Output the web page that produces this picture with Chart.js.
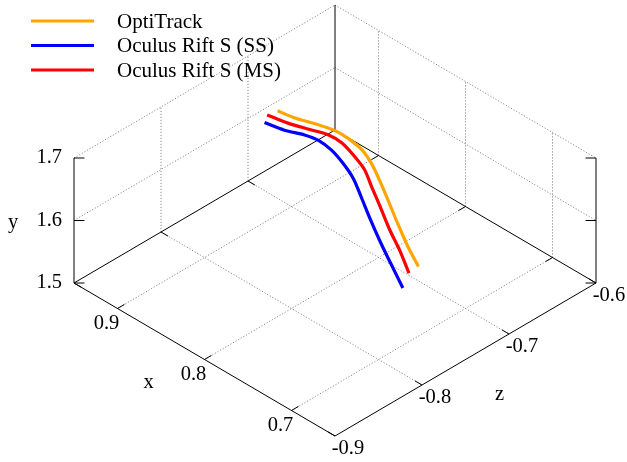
<!DOCTYPE html>
<html>
<head>
<meta charset="utf-8">
<script src="https://cdn.jsdelivr.net/npm/chart.js@4/dist/chart.umd.min.js"></script>
<style>
html,body{margin:0;padding:0;background:#fff;}
#wrap{width:627px;height:462px;position:relative;}
</style>
</head>
<body>
<div id="wrap"><canvas id="c" width="627" height="462"></canvas></div>
<script>
// ---- data ----
const seriesNames = ["OptiTrack", "Oculus Rift S (SS)", "Oculus Rift S (MS)"];
const optiX = [0.867,0.853,0.839,0.825,0.816,0.806,0.798,0.791,0.782,0.771,0.759,0.751];
const optiY = [1.720,1.715,1.710,1.703,1.693,1.678,1.660,1.638,1.612,1.584,1.556,1.528];
const optiZ = [-0.749,-0.743,-0.734,-0.725,-0.719,-0.713,-0.710,-0.708,-0.707,-0.707,-0.707,-0.703];
const ssX = [0.863,0.847,0.834,0.825,0.814,0.804,0.794,0.785,0.775,0.763,0.753,0.739];
const ssY = [1.720,1.715,1.710,1.703,1.693,1.678,1.660,1.638,1.612,1.584,1.556,1.528];
const ssZ = [-0.768,-0.761,-0.751,-0.744,-0.740,-0.737,-0.735,-0.735,-0.735,-0.735,-0.733,-0.733];
const msX = [0.869,0.852,0.837,0.825,0.815,0.803,0.796,0.789,0.780,0.769,0.759,0.750];
const msY = [1.720,1.715,1.710,1.703,1.693,1.678,1.660,1.638,1.612,1.584,1.556,1.528];
const msZ = [-0.759,-0.752,-0.743,-0.733,-0.727,-0.724,-0.720,-0.719,-0.718,-0.718,-0.716,-0.715];
const xTicks = [0.9, 0.8, 0.7];
const yTicks = [1.5, 1.6, 1.7];
const zTicks = [-0.9, -0.8, -0.7, -0.6];
const xTickLabels = ["0.9", "0.8", "0.7"];
const yTickLabels = ["1.5", "1.6", "1.7"];
const zTickLabels = ["-0.9", "-0.8", "-0.7", "-0.6"];
const xRange = [0.65, 0.95];
const yRange = [1.5, 1.7];
const zRange = [-0.9, -0.6];

// ---- view (gnuplot-like projection) ----
const view = {ox:335, oy:436, hx:870, vx:510, vy:625};
function proj(x, y, z){
  const dx = x - xRange[0], dz = z - zRange[0], dy = y - yRange[0];
  return {x: view.ox - dx*view.hx + dz*view.hx, y: view.oy - dx*view.vx - dz*view.vx - dy*view.vy};
}
function seg(a, b){ return [proj(a[0],a[1],a[2]), proj(b[0],b[1],b[2])]; }

const FONT = '20.5px "Liberation Serif", "Times New Roman", serif';
const LFONT = '21px "Liberation Serif", "Times New Roman", serif';
const datasets = [];
const colors = ["#ffa500", "#0000ff", "#ff0000"];
const sx = [optiX, ssX, msX], sy = [optiY, ssY, msY], sz = [optiZ, ssZ, msZ];
for (let s = 0; s < 3; s++){
  datasets.push({label: seriesNames[s], data: sx[s].map((v,i)=>proj(v, sy[s][i], sz[s][i])),
    showLine:true, pointRadius:0, borderColor:colors[s], borderWidth:3.2, order:0, isSeries:true,
    borderCapStyle:'butt', borderJoinStyle:'round', tension:0.3});
}
function addLine(pts, dashed){
  datasets.push({label:'', data:pts, showLine:true, pointRadius:0,
    borderColor: dashed ? '#8a8a8a' : '#000000', borderWidth: 1,
    borderDash: dashed ? [1.2, 1.8] : [], order: dashed ? 2 : 1});
}
const [x0,x1] = xRange, [y0,y1] = yRange, [z0,z1] = zRange;
// base grid
xTicks.forEach(x => addLine(seg([x,y0,z0],[x,y0,z1]), true));
zTicks.filter(z => z > z0 && z < z1).forEach(z => addLine(seg([x1,y0,z],[x0,y0,z]), true));
// back wall x = x1
zTicks.filter(z => z > z0 && z < z1).forEach(z => addLine(seg([x1,y0,z],[x1,y1,z]), true));
yTicks.filter(y => y > y0).forEach(y => addLine(seg([x1,y,z0],[x1,y,z1]), true));
// back wall z = z1
xTicks.forEach(x => addLine(seg([x,y0,z1],[x,y1,z1]), true));
yTicks.filter(y => y > y0).forEach(y => addLine(seg([x1,y,z1],[x0,y,z1]), true));
// borders
addLine(seg([x1,y0,z0],[x0,y0,z0]), false);
addLine(seg([x0,y0,z0],[x0,y0,z1]), false);
addLine(seg([x0,y0,z1],[x1,y0,z1]), false);
addLine(seg([x1,y0,z1],[x1,y0,z0]), false);
addLine(seg([x1,y0,z0],[x1,y1,z0]), false);
addLine(seg([x1,y0,z1],[x1,y1,z1]), false);
addLine(seg([x0,y0,z1],[x0,y1,z1]), false);
// tick marks
yTicks.forEach(y => { addLine(seg([x1,y,z0],[x1-0.006,y,z0+0.006]), false); addLine(seg([x0,y,z1],[x0+0.006,y,z1-0.006]), false); });
xTicks.forEach(x => { addLine(seg([x,y0,z0],[x,y0,z0+0.008]), false); addLine(seg([x,y0,z1],[x,y0,z1-0.008]), false); });
zTicks.forEach(z => { addLine(seg([x0,y0,z],[x0+0.008,y0,z]), false); addLine(seg([x1,y0,z],[x1-0.008,y0,z]), false); });

const textPlugin = {
  id:'texts',
  afterDraw(chart){
    const ctx = chart.ctx, X = chart.scales.x, Y = chart.scales.y;
    const px = p => ({x: X.getPixelForValue(p.x), y: Y.getPixelForValue(p.y)});
    ctx.save();
    ctx.font = FONT; ctx.fillStyle = '#000'; ctx.textBaseline = 'middle';
    // y tick labels
    ctx.textAlign = 'right';
    yTicks.forEach((y,i) => { const p = px(proj(x1,y,z0)); ctx.fillText(yTickLabels[i], p.x - 12, p.y); });
    ctx.textAlign = 'center';
    xTicks.forEach((x,i) => { const p = px(proj(x,y0,z0)); ctx.fillText(xTickLabels[i], p.x - 11, p.y + 15); });
    zTicks.forEach((z,i) => { const p = px(proj(x0,y0,z)); ctx.fillText(zTickLabels[i], p.x + 13, p.y + 13); });
    // axis titles
    let p = px(proj(x1,(y0+y1)/2,z0)); ctx.fillText('y', p.x - 61, p.y + 2);
    p = px(proj((x0+x1)/2,y0,z0)); ctx.fillText('x', p.x - 56, p.y + 23);
    p = px(proj(x0,y0,(z0+z1)/2)); ctx.fillText('z', p.x + 34, p.y + 35);
    // legend
    ctx.textAlign = 'left'; ctx.font = LFONT;
    chart.data.datasets.filter(d => d.isSeries).forEach((d,i) => {
      const ly = 21 + i*24.5;
      ctx.strokeStyle = d.borderColor; ctx.lineWidth = 3.2;
      ctx.beginPath(); ctx.moveTo(31, ly); ctx.lineTo(94, ly); ctx.stroke();
      ctx.fillText(d.label, 117, ly + 1);
    });
    ctx.restore();
  }
};

new Chart(document.getElementById('c'), {
  type:'scatter',
  data:{datasets},
  options:{
    responsive:false, animation:false, devicePixelRatio:1,
    layout:{padding:0},
    plugins:{legend:{display:false}, tooltip:{enabled:false}},
    scales:{
      x:{type:'linear', min:0, max:627, display:false},
      y:{type:'linear', min:0, max:462, reverse:true, display:false}
    }
  },
  plugins:[textPlugin]
});
</script>
</body>
</html>
